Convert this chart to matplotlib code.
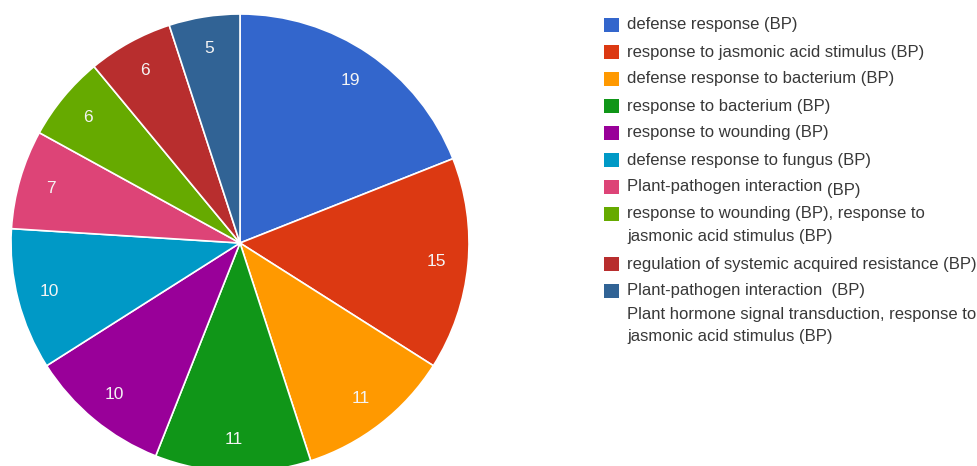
import numpy as np
import matplotlib
matplotlib.use('Agg')
import matplotlib.pyplot as plt
from matplotlib.patches import Rectangle

plt.rcParams['font.family'] = ['Liberation Sans', 'DejaVu Sans']

# gene counts per annotation term
counts = [19, 15, 11, 11, 10, 10, 7, 6, 6, 5]
terms = [
    'defense response (BP)',
    'response to jasmonic acid stimulus (BP)',
    'defense response to bacterium (BP)',
    'response to bacterium (BP)',
    'response to wounding (BP)',
    'defense response to fungus (BP)',
    'Plant-pathogen interaction (BP)',
    'response to wounding (BP), response to\njasmonic acid stimulus (BP)',
    'regulation of systemic acquired resistance (BP)',
    'Plant-pathogen interaction  (BP)\nPlant hormone signal transduction, response to\njasmonic acid stimulus (BP)',
]
colors = ['#3366cc', '#dc3912', '#ff9900', '#109618', '#990099',
          '#0099c6', '#dd4477', '#66aa00', '#b82e2e', '#316395']

W, H = 978, 466
fig = plt.figure(figsize=(W / 100, H / 100), dpi=100)
fig.patch.set_facecolor('white')

# pie: centre (240, 243) px from top-left, radius 229 px
cx, cy, r = 240, 243, 229
ax = fig.add_axes([(cx - r) / W, (H - cy - r) / H, 2 * r / W, 2 * r / H])
total = sum(counts)
wedges, _, autotexts = ax.pie(
    counts, colors=colors, startangle=90, counterclock=False,
    autopct=lambda p: '{:d}'.format(int(round(p * total / 100))),
    pctdistance=0.86,
    wedgeprops=dict(edgecolor='white', linewidth=1.2),
    textprops=dict(color='#f4f4f4', fontsize=12.5))
ax.set_xlim(-1.0, 1.0)
ax.set_ylim(-1.0, 1.0)
ax.axis('off')

# legend drawn by hand
sq_x, sq_w, sq_h = 604, 15, 14
txt_x = 627
row_gap, line_gap = 27, 23
txt_color = '#383838'
y = 25
renderer = fig.canvas.get_renderer()
for i, (term, col) in enumerate(zip(terms, colors)):
    fig.patches.append(Rectangle((sq_x / W, (H - y - sq_h / 2) / H), sq_w / W, sq_h / H,
                                 transform=fig.transFigure, facecolor=col,
                                 edgecolor='none'))
    lines = term.split('\n')
    for j, line in enumerate(lines):
        ly = y + j * line_gap
        if i == 6:
            # the "(BP)" tag sits a little lower on this entry
            head = line[:-len(' (BP)')]
            t = fig.text(txt_x / W, (H - ly) / H, head, fontsize=12,
                         color=txt_color, va='center')
            bb = t.get_window_extent(renderer)
            fig.text((bb.x1 + 5) / W, (H - ly - 3) / H, '(BP)', fontsize=12,
                     color=txt_color, va='center')
        else:
            fig.text(txt_x / W, (H - ly) / H, line, fontsize=12,
                     color=txt_color, va='center')
    y += row_gap + (len(lines) - 1) * line_gap

fig.savefig('out.png', dpi=100, facecolor='white')
